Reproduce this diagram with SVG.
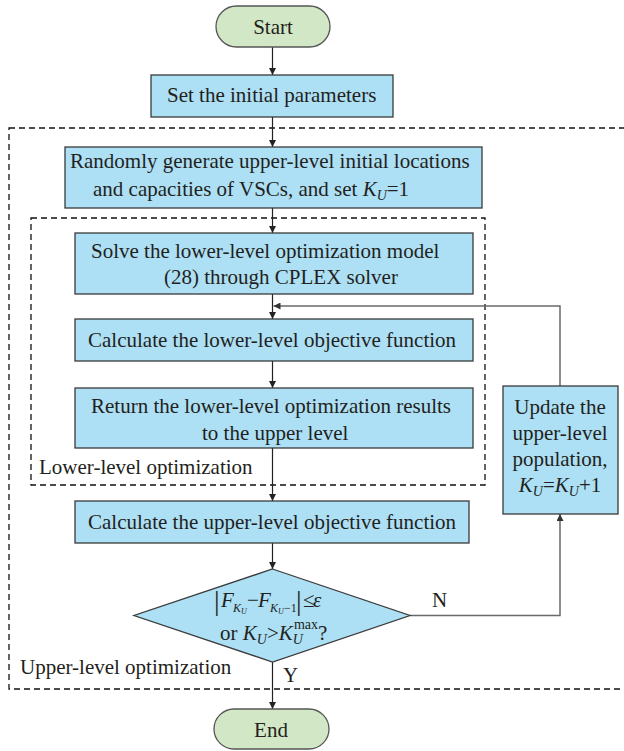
<svg xmlns="http://www.w3.org/2000/svg" width="624" height="751" viewBox="0 0 624 751">
<style>
text{font-family:"Liberation Serif","Times New Roman",serif;font-size:21px;fill:#231f20}
.box{fill:#addff5;stroke:#3a3a3a;stroke-width:1.3}
.term{fill:#d2e7c6;stroke:#555;stroke-width:1.3}
.dash{fill:none;stroke:#111;stroke-width:1.3;stroke-dasharray:6 4}
.ln{fill:none;stroke:#222;stroke-width:1.2}
.fb{fill:none;stroke:#6a6a6a;stroke-width:1.5}
.i{font-style:italic}
</style>
<defs>
<marker id="ah" viewBox="0 0 10 10" refX="10" refY="5" markerWidth="7" markerHeight="7" markerUnits="userSpaceOnUse" orient="auto"><path d="M0,0 L10,5 L0,10 z" fill="#222"/></marker>
<marker id="ahg" viewBox="0 0 10 10" refX="10" refY="5" markerWidth="7" markerHeight="7" markerUnits="userSpaceOnUse" orient="auto"><path d="M0,0 L10,5 L0,10 z" fill="#333"/></marker>
</defs>
<g id="regions">
<rect class="dash" x="9" y="128" width="630" height="561"/>
<rect class="dash" x="31" y="218" width="454" height="267"/>
<text x="39" y="474">Lower-level optimization</text>
<text x="20" y="674">Upper-level optimization</text>
</g>
<g id="connectors">
<line class="ln" x1="272.5" y1="47" x2="272.5" y2="75" marker-end="url(#ah)"/>
<line class="ln" x1="272.5" y1="117" x2="272.5" y2="147" marker-end="url(#ah)"/>
<line class="ln" x1="272.5" y1="208" x2="272.5" y2="233" marker-end="url(#ah)"/>
<line class="ln" x1="272.5" y1="294" x2="272.5" y2="319" marker-end="url(#ah)"/>
<line class="ln" x1="272.5" y1="361" x2="272.5" y2="388" marker-end="url(#ah)"/>
<line class="ln" x1="272.5" y1="448" x2="272.5" y2="501" marker-end="url(#ah)"/>
<line class="ln" x1="272.5" y1="543" x2="272.5" y2="569" marker-end="url(#ah)"/>
<line class="ln" x1="272.5" y1="662" x2="272.5" y2="709" marker-end="url(#ah)"/>
<polyline class="fb" points="410,615.5 560,615.5 560,514" marker-end="url(#ahg)"/>
<polyline class="fb" points="560,386 560,306 273.5,306" marker-end="url(#ahg)"/>
<text x="432" y="607">N</text>
<text x="283" y="682">Y</text>
</g>
<g id="start">
<rect class="term" x="216" y="6" width="114" height="41" rx="20.5"/>
<text x="273" y="34" text-anchor="middle">Start</text>
</g>
<g id="set-params">
<rect class="box" x="151" y="75" width="242" height="42"/>
<text x="167" y="102">Set the initial parameters</text>
</g>
<g id="random-init">
<rect class="box" x="65" y="147" width="417" height="61"/>
<text x="70" y="168">Randomly generate upper-level initial locations</text>
<text x="93" y="196">and capacities of VSCs, and set <tspan class="i">K</tspan><tspan class="i" font-size="14" dy="4">U</tspan><tspan dy="-4">=1</tspan></text>
</g>
<g id="solve-lower">
<rect class="box" x="75" y="233" width="398" height="61"/>
<text x="91" y="258">Solve the lower-level optimization model</text>
<text x="164" y="284">(28) through CPLEX solver</text>
</g>
<g id="calc-lower">
<rect class="box" x="75" y="319" width="398" height="42"/>
<text x="88" y="347">Calculate the lower-level objective function</text>
</g>
<g id="return-results">
<rect class="box" x="75" y="388" width="398" height="60"/>
<text x="91" y="413">Return the lower-level optimization results</text>
<text x="202" y="440">to the upper level</text>
</g>
<g id="calc-upper">
<rect class="box" x="75" y="501" width="394" height="42"/>
<text x="88" y="529">Calculate the upper-level objective function</text>
</g>
<g id="update">
<rect class="box" x="503" y="386" width="115" height="128"/>
<text x="560" y="414" text-anchor="middle">Update the</text>
<text x="560" y="440" text-anchor="middle">upper-level</text>
<text x="560" y="466" text-anchor="middle">population,</text>
<text x="560" y="492" text-anchor="middle"><tspan class="i">K</tspan><tspan class="i" font-size="14" dy="4">U</tspan><tspan dy="-4">=</tspan><tspan class="i">K</tspan><tspan class="i" font-size="14" dy="4">U</tspan><tspan dy="-4">+1</tspan></text>
</g>
<g id="decision">
<polygon class="box" points="272.5,569 410,615.5 272.5,662 134,615.5"/>
<text y="607"><tspan x="214" font-size="28" y="610">|</tspan><tspan class="i" x="221" y="607">F</tspan><tspan class="i" font-size="12" x="233" y="612">K</tspan><tspan class="i" font-size="8" x="241" y="614">U</tspan><tspan x="247" y="607">−</tspan><tspan class="i" x="258" y="607">F</tspan><tspan class="i" font-size="12" x="270" y="612">K</tspan><tspan class="i" font-size="8" x="278" y="614">U</tspan><tspan font-size="12" x="284" y="612">−1</tspan><tspan x="296" font-size="28" y="610">|</tspan><tspan x="303" y="607">≤</tspan><tspan class="i" x="313" y="607">ε</tspan></text>
<text y="640"><tspan x="220">or </tspan><tspan class="i">K</tspan><tspan class="i" font-size="14" dy="4">U</tspan><tspan dy="-4">&gt;</tspan><tspan class="i">K</tspan><tspan class="i" font-size="14" dy="4">U</tspan><tspan font-size="14" dx="-9" dy="-15">max</tspan><tspan dy="11">?</tspan></text>
</g>
<g id="end">
<rect class="term" x="214" y="709" width="115" height="40" rx="20"/>
<text x="271" y="737" text-anchor="middle">End</text>
</g>
</svg>
